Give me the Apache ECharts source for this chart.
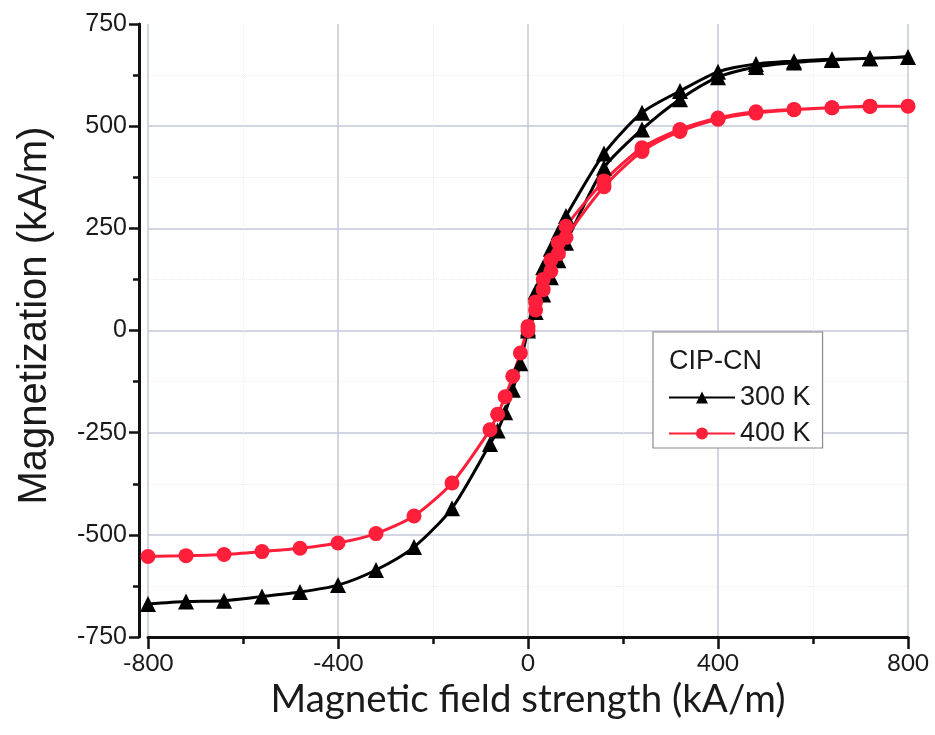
<!DOCTYPE html>
<html>
<head>
<meta charset="utf-8">
<script src="https://cdn.jsdelivr.net/npm/echarts@6/dist/echarts.min.js"></script>
<style>
html,body{margin:0;padding:0;background:#fff;}
#chart{width:935px;height:735px;}
</style>
</head>
<body>
<div id="chart"></div>
<script>
// Field strength values (kA/m): initial (virgin) branch 0 -> 800, then descending 800 -> -800
const fieldVirgin = [0, 16, 32, 48, 64, 80, 160, 240, 320, 400, 480, 560, 640, 720, 800];
const fieldDown = [720, 640, 560, 480, 400, 320, 240, 160, 80, 64, 48, 32, 16, 0, -16, -32, -48, -64, -80, -160, -240, -320, -400, -480, -560, -640, -720, -800];

// Magnetization (kA/m) at 300 K
const m300Virgin = [0, 45, 88, 130, 172, 215, 398, 492, 566, 620, 645, 656, 662, 666, 669];
const m300Down = [666, 664, 659, 652, 633, 586, 533, 433, 280, 240, 200, 155, 95, 5, -80, -145, -200, -245, -278, -435, -530, -586, -623, -640, -651, -661, -663, -669];

// Magnetization (kA/m) at 400 K
const m400Virgin = [0, 50, 100, 145, 188, 228, 352, 438, 487, 517, 532, 540, 545, 548, 549];
const m400Down = [549, 545, 541, 535, 520, 492, 447, 366, 255, 215, 172, 125, 70, 10, -55, -112, -162, -205, -243, -373, -454, -497, -520, -533, -541, -548, -551, -553];

const seriesNames = ['300 K', '400 K'];
const legendTitle = 'CIP-CN';
const xTitle = 'Magnetic field strength (kA/m)';
const yTitle = 'Magnetization (kA/m)';

function path(hv, mv, hd, md) {
  return hv.map((h, i) => [h, mv[i]]).concat(hd.map((h, i) => [h, md[i]]));
}

const chart = echarts.init(document.getElementById('chart'), null, {renderer: 'canvas'});
const armF = 'Liberation Sans, Arial, sans-serif';
const calF = 'Lato, Open Sans, sans-serif';

chart.setOption({
  animation: false,
  backgroundColor: '#ffffff',
  grid: {left: 148, right: 27, top: 24, bottom: 98, containLabel: false},
  title: {
    text: legendTitle,
    left: 669, top: 348,
    padding: 0,
    textStyle: {fontFamily: armF, fontSize: 27, fontWeight: 'normal', color: '#1a1a1a'}
  },
  legend: {
    data: seriesNames,
    orient: 'vertical',
    left: 653, top: 332,
    padding: [52, 12, 1, 15],
    itemWidth: 66, itemHeight: 15, itemGap: 9,
    borderColor: '#8a8a8a', borderWidth: 1.2,
    backgroundColor: '#ffffff',
    textStyle: {fontFamily: armF, fontSize: 27, color: '#1a1a1a', lineHeight: 27, padding: [0,0,0,0]}
  },
  xAxis: {
    type: 'value',
    min: -800, max: 800, interval: 400,
    name: xTitle,
    nameLocation: 'middle',
    nameGap: 29,
    nameTextStyle: {fontFamily: calF, fontSize: 38.5, color: '#1a1a1a'},
    axisLine: {show: true, onZero: false, lineStyle: {color: '#111', width: 3}},
    axisTick: {show: true, inside: false, length: 12, lineStyle: {color: '#111', width: 2.5}},
    minorTick: {show: true, splitNumber: 2, length: 7, lineStyle: {color: '#111', width: 2.5}},
    axisLabel: {fontFamily: calF, fontSize: 24, color: '#1a1a1a', margin: 14},
    splitLine: {show: true, lineStyle: {color: '#c4c7d8', width: 1.5}},
    minorSplitLine: {show: true, lineStyle: {color: '#ececf2', width: 1, type: 'dotted'}}
  },
  yAxis: {
    type: 'value',
    min: -750, max: 750, interval: 250,
    offset: 9,
    name: yTitle,
    nameLocation: 'middle',
    nameGap: 84,
    nameTextStyle: {fontFamily: armF, fontSize: 40, color: '#1a1a1a', padding: [0, 0, 0, 30]},
    axisLine: {show: true, onZero: false, lineStyle: {color: '#111', width: 3}},
    axisTick: {show: true, inside: false, length: 10, lineStyle: {color: '#111', width: 2.5}},
    minorTick: {show: true, splitNumber: 2, length: 6, lineStyle: {color: '#111', width: 2.5}},
    axisLabel: {fontFamily: armF, fontSize: 25, color: '#1a1a1a', margin: 12},
    splitLine: {show: true, showMaxLine: false, lineStyle: {color: '#c4c7d8', width: 1.5}},
    minorSplitLine: {show: true, lineStyle: {color: '#ececf2', width: 1, type: 'dotted'}}
  },
  series: [
    {
      name: seriesNames[0],
      type: 'line',
      data: path(fieldVirgin, m300Virgin, fieldDown, m300Down),
      smooth: 0.25,
      symbol: 'triangle',
      symbolSize: 16,
      itemStyle: {color: '#000000'},
      lineStyle: {color: '#000000', width: 3}
    },
    {
      name: seriesNames[1],
      type: 'line',
      data: path(fieldVirgin, m400Virgin, fieldDown, m400Down),
      smooth: 0.25,
      symbol: 'circle',
      symbolSize: 15,
      itemStyle: {color: '#ff1f3a'},
      lineStyle: {color: '#ff1f3a', width: 3}
    }
  ]
});
</script>
</body>
</html>
